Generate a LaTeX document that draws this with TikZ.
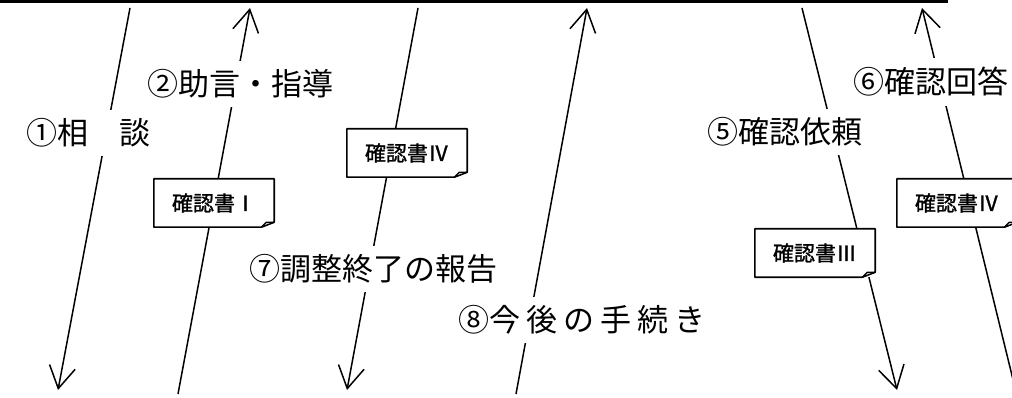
\documentclass[tikz,border=0pt]{standalone}
\usepackage{fontspec}
\newfontfamily\cjk{Noto Sans CJK JP}
\newfontfamily\cjkdoc{Noto Sans CJK JP}[FakeBold=1.2]
\usetikzlibrary{arrows.meta}
\begin{document}
\begin{tikzpicture}[x=1pt,y=-1pt,
    flow/.style={line width=1.5pt,-{Straight Barb[length=22pt,width=26pt]}},
    lbl/.style={fill=white,inner xsep=2pt,inner ysep=9pt,font=\cjk\fontsize{31}{31}\selectfont},
    doc/.style={fill=white,minimum width=120pt,minimum height=48pt,inner sep=0pt,font=\cjkdoc\fontsize{21}{21}\selectfont},
    docline/.style={line width=1.6pt,line join=round},
    flap/.style={line width=1.2pt,fill=gray!40,line join=round}]
    \useasboundingbox (0,0) rectangle (1012,398);
    % top bar
    \coordinate (barW) at (0,1.5);
    \coordinate (barE) at (948,1.5);
    \draw[line width=3.5pt] (barW) -- (barE);
    % ends of the arrows
    \coordinate (t1) at (130,8);   \coordinate (b1) at (58,390);
    \coordinate (t2) at (250,8);   \coordinate (b2) at (178,394);
    \coordinate (t3) at (418,8);   \coordinate (b3) at (347,390);
    \coordinate (t4) at (587,8);   \coordinate (b4) at (516,394);
    \coordinate (t5) at (802,8);   \coordinate (b5) at (897,390);
    \coordinate (t6) at (922,8);   \coordinate (b6) at (1018,400);
    \draw[flow] (t1) -- (b1);
    \draw[flow] (b2) -- (t2);
    \draw[flow] (t3) -- (b3);
    \draw[flow] (b4) -- (t4);
    \draw[flow] (t5) -- (b5);
    \draw[flow] (b6) -- (t6);
    % labels
    \node[lbl] (l1) at (89,133) {①相　談};
    \node[lbl] (l2) at (240,84) {②助言・指導};
    \node[lbl] (l7) at (373,269) {⑦調整終了の報告};
    \node[lbl] (l8) at (582,320) {⑧今\kern6pt 後\kern6pt の\kern6pt 手\kern6pt 続\kern6pt き};
    \node[lbl] (l5) at (785,132) {⑤確認依頼};
    \node[lbl] (l6) at (931,82) {⑥確認回答};
    % documents
    \node[doc] (d1) at (214,203) {確認書Ⅰ};
    \node[doc] (d2) at (407,153) {確認書Ⅳ};
    \node[doc] (d3) at (815,253) {確認書Ⅲ};
    \node[doc] (d4) at (957,203) {確認書Ⅳ};
    \draw[docline] (d1.north west) -- (d1.north east) -- ([yshift=5pt]d1.south east) -- ([xshift=-13pt]d1.south east) -- (d1.south west) -- cycle;
    \draw[flap] ([xshift=-13pt]d1.south east) -- ([xshift=-8pt,yshift=5pt]d1.south east) -- ([yshift=5pt]d1.south east) -- cycle;
    \draw[docline] (d2.north west) -- (d2.north east) -- ([yshift=5pt]d2.south east) -- ([xshift=-13pt]d2.south east) -- (d2.south west) -- cycle;
    \draw[flap] ([xshift=-13pt]d2.south east) -- ([xshift=-8pt,yshift=5pt]d2.south east) -- ([yshift=5pt]d2.south east) -- cycle;
    \draw[docline] (d3.north west) -- (d3.north east) -- ([yshift=5pt]d3.south east) -- ([xshift=-13pt]d3.south east) -- (d3.south west) -- cycle;
    \draw[flap] ([xshift=-13pt]d3.south east) -- ([xshift=-8pt,yshift=5pt]d3.south east) -- ([yshift=5pt]d3.south east) -- cycle;
    \draw[docline] (d4.north west) -- (d4.north east) -- ([yshift=5pt]d4.south east) -- ([xshift=-13pt]d4.south east) -- (d4.south west) -- cycle;
    \draw[flap] ([xshift=-13pt]d4.south east) -- ([xshift=-8pt,yshift=5pt]d4.south east) -- ([yshift=5pt]d4.south east) -- cycle;
\end{tikzpicture}
\end{document}
